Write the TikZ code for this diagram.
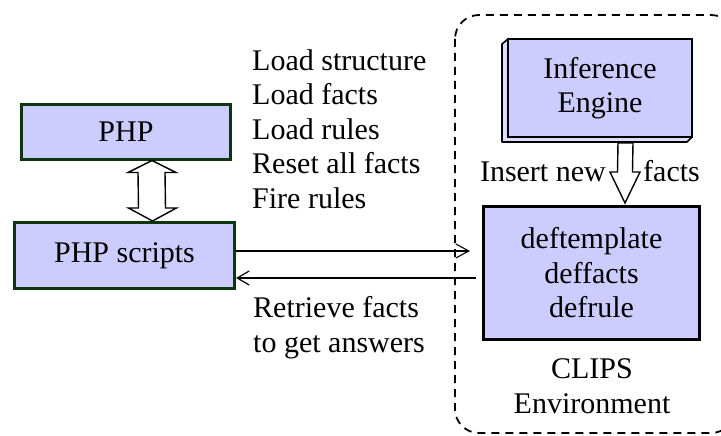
\documentclass[tikz,border=0pt]{standalone}
\usepackage{fontspec}
\setmainfont{Liberation Serif}
\usetikzlibrary{arrows.meta,calc}
\definecolor{boxfill}{HTML}{CCCCFF}
\definecolor{sidefill}{HTML}{DCDCFF}
\definecolor{phpgreen}{HTML}{0E360E}
\begin{document}
\begin{tikzpicture}[x=1pt,y=-1pt,
  txt/.style={font=\fontsize{30}{34.5}\selectfont, inner sep=0pt, align=center},
  greenbox/.style={draw=phpgreen, line width=3pt, fill=boxfill, inner sep=0pt, txt},
  blackbox/.style={draw=black, line width=3pt, fill=boxfill, inner sep=0pt, txt},
  enginebox/.style={draw=black, line width=1.6pt, fill=boxfill, inner sep=0pt, txt},
  hollow/.style={draw=black, line width=1.4pt, fill=white, line join=miter},
  thinarrow/.style={draw=black, line width=1.1pt, -{Straight Barb[length=13pt,width=14pt,line width=1.1pt]}},
  thickarrow/.style={draw=black, line width=2pt, -{Straight Barb[length=12pt,width=14pt,line width=1.2pt]}},
  envline/.style={draw=black, line width=1.8pt, dash pattern=on 8pt off 6pt, rounded corners=24pt}
]
\useasboundingbox (0,0) rectangle (721,436);

% CLIPS environment dashed outline
\draw[envline] (455,15) rectangle (735,433);

% boxes
\node[greenbox, minimum width=209pt, minimum height=54pt] (php) at (126,132) {PHP};
\node[greenbox, minimum width=220pt, minimum height=66pt] (scripts) at (124.5,255.5) {PHP scripts};
\node[blackbox, minimum width=216pt, minimum height=133pt] (defs) at (591.5,273)
  {deftemplate\\deffacts\\defrule};

% inference engine (3D box)
\coordinate (ea) at (508,39);
\coordinate (eb) at (692,137);
\draw[black, line width=1.6pt, fill=sidefill, line join=round]
  (ea) -- ++(-6,5) -- (502,142) -- (687,142) -- (eb) -- (508,137) -- cycle;
\node[enginebox, minimum width=184pt, minimum height=98pt] (engine) at (600,88)
  {Inference\\Engine};

% double hollow arrow PHP <-> PHP scripts
\coordinate (ta) at ([xshift=26pt]php.south);
\coordinate (tb) at ([xshift=28pt]scripts.north);
\draw[hollow] (ta) -- ($(ta)+(24,12)$) -- ($(ta)+(13,12)$) -- ($(tb)+(13,-13)$)
  -- ($(tb)+(24,-13)$) -- (tb) -- ($(tb)+(-24,-13)$) -- ($(tb)+(-14,-13)$)
  -- ($(ta)+(-14,12)$) -- ($(ta)+(-24,12)$) -- cycle;

% hollow arrow engine -> defs
\coordinate (da) at ($(engine.south)+(25.5,5)$);
\coordinate (db) at ([xshift=33.5pt,yshift=2pt]defs.north);
\draw[hollow] ($(da)+(-7.5,0)$) -- ($(da)+(7.5,0)$) -- ($(db |- 0,172)+(7.5,0)$)
  -- ($(db |- 0,172)+(15,0)$) -- (db) -- ($(db |- 0,172)+(-15,0)$)
  -- ($(db |- 0,172)+(-7.5,0)$) -- cycle;
\node[txt, anchor=base east] (ins) at (606,181) {Insert new};
\node[txt, anchor=base west] (fct) at (643,181) {facts};

% arrows between PHP scripts and CLIPS
\coordinate (rend) at (470,251);
\coordinate (lstart) at (476,278);
\draw[thinarrow] (scripts.east |- rend) -- (rend);
\draw[thickarrow] (lstart) -- (scripts.east |- lstart);

% command labels
\node[txt, align=left, anchor=base west] (cmds) at (252,208)
  {Load structure\\Load facts\\Load rules\\Reset all facts\\Fire rules};
\node[txt, align=left, anchor=base west] (ret) at (253,352)
  {Retrieve facts\\to get answers};

% environment label
\node[txt, anchor=base] (env) at (592,413) {CLIPS\\Environment};
\end{tikzpicture}
\end{document}
